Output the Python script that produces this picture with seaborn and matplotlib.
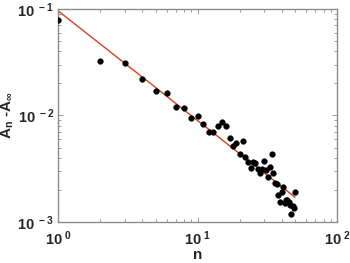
import numpy as np
import pandas as pd
import matplotlib
matplotlib.use('Agg')
import matplotlib.pyplot as plt
import seaborn as sns

# data (log-log)
n_values = list(range(1, 51))
a_diff = [0.0788, 0.0325, 0.0313, 0.0219, 0.0170, 0.0164, 0.0121, 0.0117, 0.0095, 0.0098,
          0.0083, 0.00695, 0.0070, 0.0079, 0.00875, 0.0079, 0.00611, 0.00521, 0.00548, 0.00432,
          0.00580, 0.00407, 0.00368, 0.00323, 0.00368, 0.0036, 0.00312, 0.00286, 0.00312, 0.00376,
          0.00308, 0.00263, 0.00330, 0.00432, 0.00286, 0.00234, 0.00227, 0.00179, 0.00155, 0.00193,
          0.00212, 0.00150, 0.00161, 0.00161, 0.00155, 0.00145, 0.00120, 0.00142, 0.00135, 0.00193]

# power-law fit A = c * n^p
fit_coef = 0.096
fit_exp = -1.03

x_ticks = [1, 10, 100]
x_labels = ['10$^{\\ 0}$', '10$^{\\ 1}$', '10$^{\\ 2}$']
y_ticks = [1e-3, 1e-2, 1e-1]
y_labels = ['10$^{\\ -3}$', '10$^{\\ -2}$', '10$^{\\ -1}$']

df = pd.DataFrame({'n': n_values, 'A': a_diff})
df['fit'] = fit_coef * df['n'] ** fit_exp

sns.set_style('white')
plt.rcParams['font.family'] = ['Liberation Sans', 'DejaVu Sans']
plt.rcParams['mathtext.fontset'] = 'custom'
plt.rcParams['mathtext.rm'] = 'Liberation Sans:bold'
plt.rcParams['mathtext.bf'] = 'Liberation Sans:bold'
plt.rcParams['mathtext.it'] = 'Liberation Sans:bold'
plt.rcParams['mathtext.default'] = 'bf'

fig = plt.figure(figsize=(3.5, 2.63), dpi=100)
ax = fig.add_axes([0.166, 0.156, 0.797, 0.81])

sns.lineplot(data=df, x='n', y='fit', ax=ax, color='#D9401A', linewidth=1.0)
sns.scatterplot(data=df, x='n', y='A', ax=ax, color='black', s=17, edgecolor='black', linewidth=0.3, zorder=3)

ax.set_xscale('log')
ax.set_yscale('log')
ax.set_xlim(1, 100)
ax.set_ylim(1e-3, 1e-1)
ax.set_xticks(x_ticks)
ax.set_xticklabels(x_labels)
ax.set_yticks(y_ticks)
ax.set_yticklabels(y_labels)

for s in ax.spines.values():
    s.set_color('#8c8c8c')
    s.set_linewidth(1.0)
ax.tick_params(which='both', direction='in', top=True, right=True, bottom=True, left=True,
               color='#8c8c8c', width=0.6)
ax.tick_params(which='major', length=3.5, labelsize=10.5)
ax.tick_params(axis='x', which='major', pad=5)
ax.tick_params(axis='y', which='major', pad=3)
ax.tick_params(which='minor', length=2)
for lab in ax.get_xticklabels() + ax.get_yticklabels():
    lab.set_fontweight('bold')

ax.set_xlabel('n', fontsize=11, fontweight='bold', labelpad=0)
ax.set_ylabel('A$_{n}$ -A$_{\\infty}$', fontsize=11, fontweight='bold', labelpad=1)

fig.savefig('out.png', dpi=100)
